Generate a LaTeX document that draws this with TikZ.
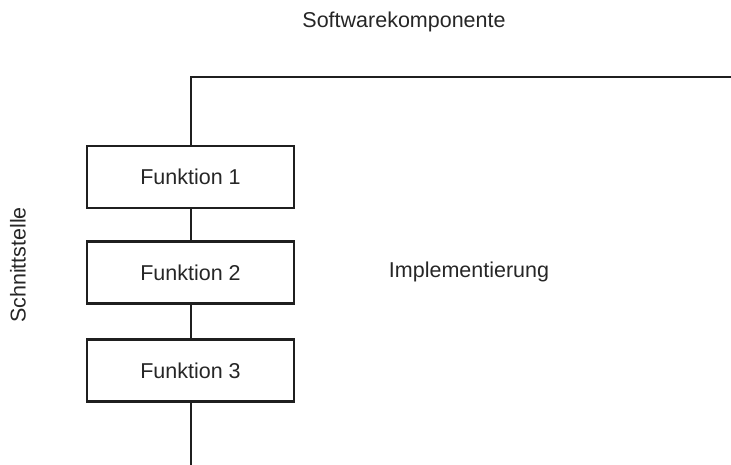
\documentclass[tikz,border=0pt]{standalone}
\usepackage{fontspec}
\setmainfont{Liberation Sans}
\begin{document}
\begin{tikzpicture}[x=1pt,y=-1pt,
  every node/.style={font=\fontsize{21.5}{26}\selectfont, text=black!85},
  fbox/.style={draw=black!88, line width=2.2pt, minimum width=207pt, minimum height=62pt, inner sep=0pt},
  conn/.style={draw=black!88, line width=1.8pt}]
\useasboundingbox (0,0) rectangle (731,465);
\node (sw) at (404,21.5) {Softwarekomponente};
\node (impl) at (469,271.5) {Implementierung};
\node[rotate=90] (sst) at (18,265) {Schnittstelle};
\node[fbox] (f1) at (190.5,177) {Funktion 1};
\node[fbox] (f2) at (190.5,272.5) {Funktion 2};
\node[fbox] (f3) at (190.5,370.5) {Funktion 3};
\coordinate (tr) at (731,77);
\coordinate (tl) at (191,77);
\coordinate (bot) at (191,465);
\draw[conn] (tr) -- (tl) -- (tl |- f1.north);
\draw[conn] (f1.south -| tl) -- (f2.north -| tl);
\draw[conn] (f2.south -| tl) -- (f3.north -| tl);
\draw[conn] (f3.south -| tl) -- (bot);
\end{tikzpicture}
\end{document}
